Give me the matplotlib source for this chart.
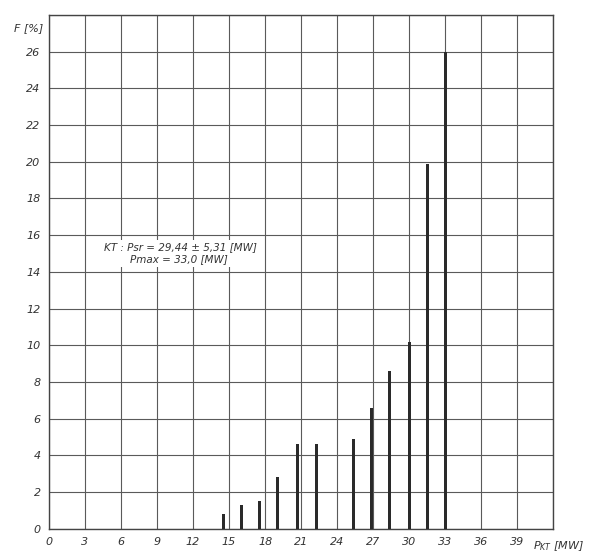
import matplotlib
matplotlib.use("Agg")
import matplotlib.pyplot as plt

# Power output classes P_KT [MW] and frequency F [%]
power_mw = [14.5, 16.0, 17.5, 19.0, 20.7, 22.3, 25.4, 26.9, 28.4, 30.0, 31.5, 33.0]
freq_pct = [0.8, 1.3, 1.5, 2.8, 4.6, 4.6, 4.9, 6.6, 8.6, 10.2, 19.9, 26.0]

x_grid = list(range(0, 43, 3))
y_grid = list(range(0, 29, 2))
x_labels = [str(v) for v in x_grid[:-1]] + [""]
y_labels = [str(v) for v in y_grid[:-1]] + [""]

plt.rcParams["font.family"] = ["DejaVu Sans"]

fig = plt.figure(figsize=(5.98, 5.52), dpi=100)
ax = fig.add_axes([0.082, 0.042, 0.843, 0.931])

ax.bar(power_mw, freq_pct, width=0.26, color="#2a2a2a", zorder=3)

ax.set_xlim(0, 42)
ax.set_ylim(0, 28)
ax.set_xticks(x_grid, x_labels)
ax.set_yticks(y_grid, y_labels)
ax.grid(True, color="#5a5a5a", linewidth=0.8, zorder=1)
ax.set_axisbelow(True)
ax.tick_params(length=0)
ax.tick_params(axis="both", labelsize=8, pad=6, colors="#333333")
for lab in ax.get_xticklabels() + ax.get_yticklabels():
    lab.set_fontstyle("italic")
for sp in ax.spines.values():
    sp.set_color("#444444")
    sp.set_linewidth(1.0)

ax.text(-0.5, 27.3, "F [%]", ha="right", va="center", fontsize=8,
        style="italic", color="#333333")
ax.text(40.3, -0.95, r"$P_{KT}$ [MW]", ha="left", va="center", fontsize=8,
        style="italic", color="#333333", clip_on=False)

# annotation block, drawn on a white patch that hides the grid behind it
ax.text(4.6, 15.0, "KT : Psr = 29,44 ± 5,31 [MW]\n        Pmax = 33,0 [MW]",
        ha="left", va="center", fontsize=7.5, style="italic",
        color="#333333", linespacing=1.25, zorder=4,
        bbox=dict(facecolor="white", edgecolor="none", pad=2))

fig.savefig("out.png", dpi=100)
